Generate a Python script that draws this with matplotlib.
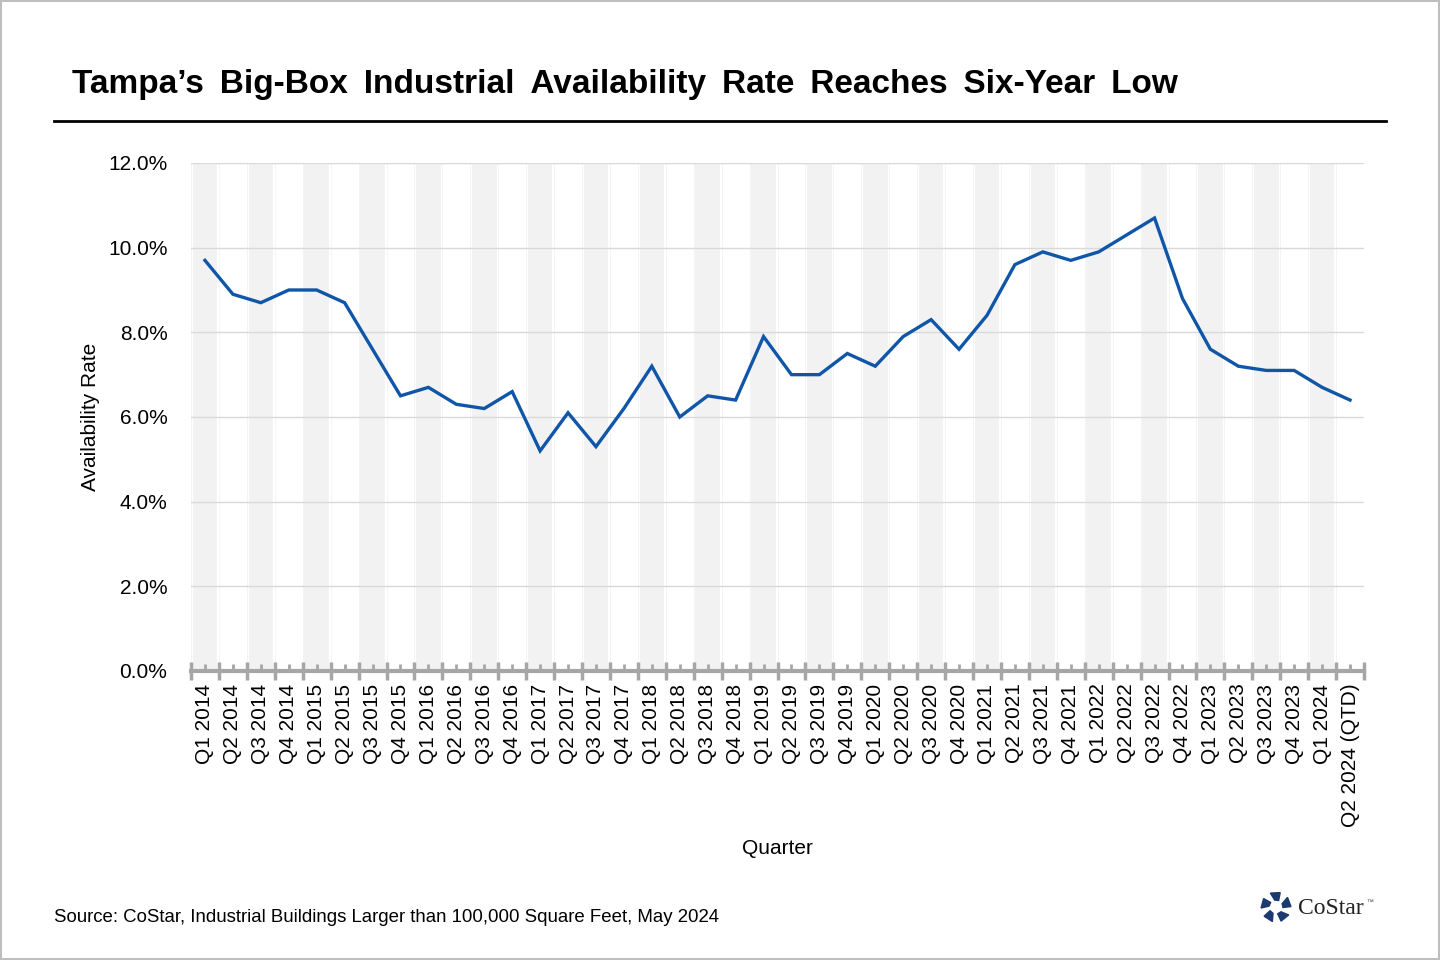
import matplotlib.pyplot as plt
import numpy as np
from matplotlib.patches import Rectangle, Polygon

plt.rcParams['font.family'] = ['Liberation Sans', 'DejaVu Sans']

# quarters shown on the x axis
quarters = []
for year in range(2014, 2024):
    for q in range(1, 5):
        quarters.append(f"Q{q} {year}")
quarters += ["Q1 2024", "Q2 2024 (QTD)"]

# availability rate, percent
rate = [9.7, 8.9, 8.7, 9.0, 9.0, 8.7, 7.6, 6.5, 6.7, 6.3,
        6.2, 6.6, 5.2, 6.1, 5.3, 6.2, 7.2, 6.0, 6.5, 6.4,
        7.9, 7.0, 7.0, 7.5, 7.2, 7.9, 8.3, 7.6, 8.4, 9.6,
        9.9, 9.7, 9.9, 10.3, 10.7, 8.8, 7.6, 7.2, 7.1, 7.1,
        6.7, 6.4]

y_ticks = [0, 2, 4, 6, 8, 10, 12]

fig = plt.figure(figsize=(14.4, 9.6), dpi=100)
ax = fig.add_axes([191/1440, 1-671/960, (1364-191)/1440, (671-163)/960])

x = np.arange(len(quarters))

# alternating grey columns
for i in x:
    if i % 2 == 0:
        ax.axvspan(i - 0.44, i + 0.44, ymin=0, ymax=1, color='#f2f2f2', lw=0, zorder=0)
for b in np.arange(len(quarters) + 1) - 0.5:
    ax.axvline(b, color='#f3f3f3', lw=0.6, zorder=0)

for t in y_ticks[1:]:
    ax.axhline(t, color='#d9d9d9', lw=1, zorder=1)

ax.plot(x, rate, color='#1056a8', lw=2.4, solid_joinstyle='miter', zorder=3)

ax.set_xlim(-0.5, len(quarters) - 0.5)
ax.set_ylim(0, 12)
ax.set_yticks(y_ticks)
ax.set_yticklabels([f"{t:.1f}%" for t in y_ticks], fontsize=15)
ax.tick_params(axis='y', length=0, pad=17)

ax.set_xticks(np.arange(len(quarters) + 1) - 0.5)
ax.set_xticklabels([])
ax.set_xticks(x, minor=True)
ax.set_xticklabels(quarters, minor=True, rotation=90, fontsize=15, va='top', ha='center')
ax.tick_params(axis='x', which='major', direction='inout', length=13, width=2.5, color='#a6a6a6')
ax.tick_params(axis='x', which='minor', direction='in', length=5, width=2, color='#a6a6a6', pad=9)

for s in ['top', 'left', 'right']:
    ax.spines[s].set_visible(False)
ax.spines['bottom'].set_color('#a6a6a6')
ax.spines['bottom'].set_linewidth(3)
ax.spines['bottom'].set_zorder(4)

fig.text(91/1440, 1-417/960, "Availability Rate", fontsize=15, rotation=90, ha='center', va='center')
fig.text(777/1440, 1-849/960, "Quarter", fontsize=15, ha='center', va='center')

# title and rule
title_words = ["Tampa\u2019s", "Big-Box", "Industrial", "Availability", "Rate", "Reaches", "Six-Year", "Low"]
fig.text(72/1440, 1-85/960, " \u2009".join(title_words),
         fontsize=24, fontweight='bold', ha='left', va='center')
fig.add_artist(plt.Line2D([54/1440, 1386/1440], [1-121/960, 1-121/960], color='black', lw=2))

fig.text(54/1440, 1-918/960, "Source: CoStar, Industrial Buildings Larger than 100,000 Square Feet, May 2024",
         fontsize=13.4, ha='left', va='center')

# CoStar logo
cx, cy = 1276, 907
for k in range(5):
    a = np.deg2rad(90 + k * 72)
    a1 = a - np.deg2rad(22)
    a2 = a + np.deg2rad(22)
    pts = [(cx + 7 * np.cos(a1), cy - 7 * np.sin(a1)),
           (cx + 15 * np.cos(a1 + 0.1), cy - 15 * np.sin(a1 + 0.1)),
           (cx + 15 * np.cos(a2), cy - 15 * np.sin(a2)),
           (cx + 7 * np.cos(a2 - 0.2), cy - 7 * np.sin(a2 - 0.2))]
    pts = [(px / 1440, 1 - py / 960) for px, py in pts]
    fig.add_artist(Polygon(pts, closed=True, color='#1c3a70', transform=fig.transFigure))
fig.text(1298/1440, 1-908/960, "CoStar", fontsize=17, family='Liberation Serif', color='#222222',
         ha='left', va='center')
fig.text(1366/1440, 1-902/960, "\u2122", fontsize=5, color='#444444', ha='left', va='center')

# figure border
fig.add_artist(Rectangle((0.001, 0.001), 0.998, 0.998, transform=fig.transFigure,
                         fill=False, edgecolor='#bfbfbf', lw=1.5))

fig.savefig("out.png", dpi=100)
